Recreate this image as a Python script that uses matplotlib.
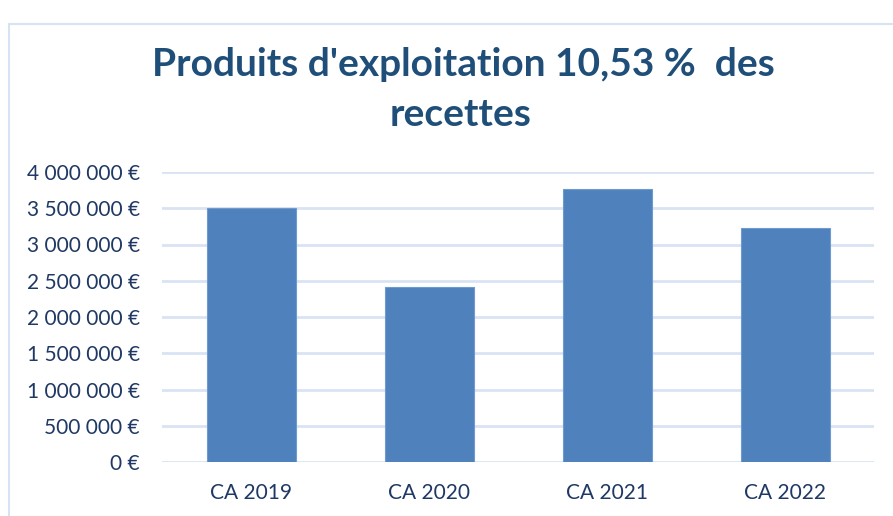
import matplotlib
matplotlib.use("Agg")
import matplotlib.pyplot as plt
from matplotlib.patches import Rectangle

categories = ["CA 2019", "CA 2020", "CA 2021", "CA 2022"]
values = [3510000, 2415000, 3760000, 3228000]
yticks = [0, 500000, 1000000, 1500000, 2000000, 2500000, 3000000, 3500000, 4000000]
ytick_labels = ["0 €", "500 000 €", "1 000 000 €", "1 500 000 €", "2 000 000 €",
                "2 500 000 €", "3 000 000 €", "3 500 000 €", "4 000 000 €"]
title_line1 = "Produits d'exploitation 10,53 %  des"
title_line2 = "recettes"

plt.rcParams['font.family'] = ['Lato', 'DejaVu Sans']

fig = plt.figure(figsize=(8.93, 5.16), dpi=100)
fig.patch.set_facecolor("white")

# outer chart border
fig.patches.append(Rectangle((8.5/893, -0.05), 1.2, 1 - 24/516 + 0.05,
                             transform=fig.transFigure, fill=False,
                             edgecolor="#D6E3F3", linewidth=1.5))

ax = fig.add_axes([162/893, 1 - 462/516, 712/893, 290/516])
x = range(len(categories))
ax.bar(x, values, width=0.5, color="#4F81BD", edgecolor="#6E9AD0", linewidth=0.8, zorder=3)
ax.set_xlim(-0.5, len(categories) - 0.5)
ax.set_ylim(0, 4000000)
ax.set_yticks(yticks)
ax.set_yticklabels(ytick_labels)
ax.set_xticks(list(x))
ax.set_xticklabels(categories)
ax.tick_params(axis='y', length=0, pad=16, labelsize=15, labelcolor="#1F3864")
ax.tick_params(axis='x', length=0, pad=15, labelsize=15, labelcolor="#1F3864")
for s in ax.spines.values():
    s.set_visible(False)
ax.grid(axis='y', color="#D9E3F3", linewidth=2, zorder=0)
ax.set_axisbelow(True)

fig.text(463/893, 1 - 65/516, title_line1, ha='center', va='center',
         fontsize=28, fontweight='bold', color="#1F4E79")
fig.text(461/893, 1 - 114/516, title_line2, ha='center', va='center',
         fontsize=28, fontweight='bold', color="#1F4E79")

fig.savefig("out.png", dpi=100)
